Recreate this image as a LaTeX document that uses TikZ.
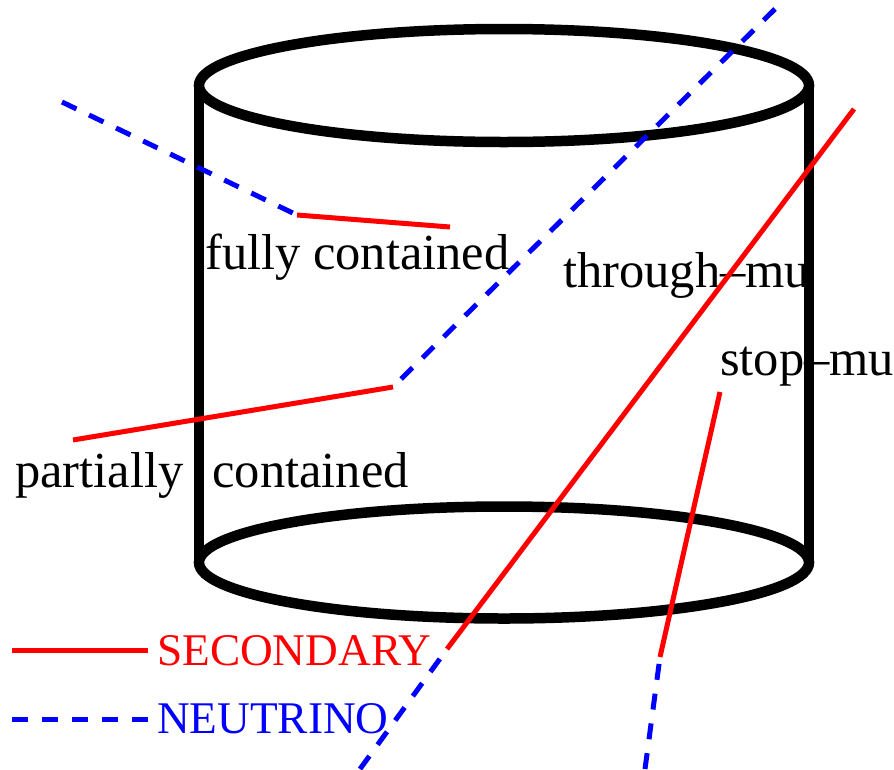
\documentclass[tikz,border=0pt]{standalone}
\usepackage{fontspec}
\setmainfont{Liberation Serif}
\newfontfamily\tms{Liberation Serif}
\begin{document}
\begin{tikzpicture}[x=1pt,y=-1pt,
  lbl/.style={anchor=base west,inner sep=0pt,font=\tms\fontsize{50.5}{60}\selectfont},
  leg/.style={anchor=base west,inner sep=0pt,font=\tms\fontsize{45.3}{52}\selectfont},
  wall/.style={line width=10.5pt,black},
  sec/.style={line width=5pt,red},
  neu/.style={line width=5pt,blue,dash pattern=on 16pt off 14pt}]
\useasboundingbox (0,0) rectangle (894,769);
% labels
\node[lbl] (fc) at (205,269) {fully contained};
\node[lbl] (tm) at (563,287) {through–mu};
\node[lbl] (sm) at (720,375) {stop–mu};
\node[lbl] (pc) at (15,487) {partially\hspace{29pt}contained};
% cylinder
\draw[wall] (504,85.5) ellipse [x radius=305pt, y radius=56.5pt];
\draw[wall] (199,85.5) -- (199,562.5);
\draw[wall] (809,85.5) -- (809,562.5);
\draw[wall] (504,562.5) ellipse [x radius=305pt, y radius=56pt];
% track points
\coordinate (fc0) at (62,102);
\coordinate (fc1) at (297,215);
\coordinate (fc2) at (450,227);
\coordinate (pc0) at (775,9);
\coordinate (pc1) at (393,387);
\coordinate (pc2) at (73,440);
\coordinate (tm0) at (360,769);
\coordinate (tm1) at (447,649);
\coordinate (tm2) at (854,109);
\coordinate (sm0) at (645,769);
\coordinate (sm1) at (660,657);
\coordinate (sm2) at (720,392);
\draw[neu] (fc0) -- (fc1);
\draw[sec] (fc1) -- (fc2);
\draw[neu] (pc0) -- (pc1);
\draw[sec] (pc1) -- (pc2);
\draw[neu] (tm0) -- (tm1);
\draw[sec] (tm1) -- (tm2);
\draw[neu] (sm0) -- (sm1);
\draw[sec] (sm1) -- (sm2);
% legend
\coordinate (ls0) at (12,650);
\coordinate (ls1) at (148,650);
\coordinate (ln0) at (12,719);
\coordinate (ln1) at (148,719);
\draw[sec] (ls0) -- (ls1);
\draw[neu] (ln0) -- (ln1);
\node[leg,text=red] (lsec) at (157,665) {SECONDARY};
\node[leg,text=blue] (lneu) at (157,733) {NEUTRINO};
\end{tikzpicture}
\end{document}
